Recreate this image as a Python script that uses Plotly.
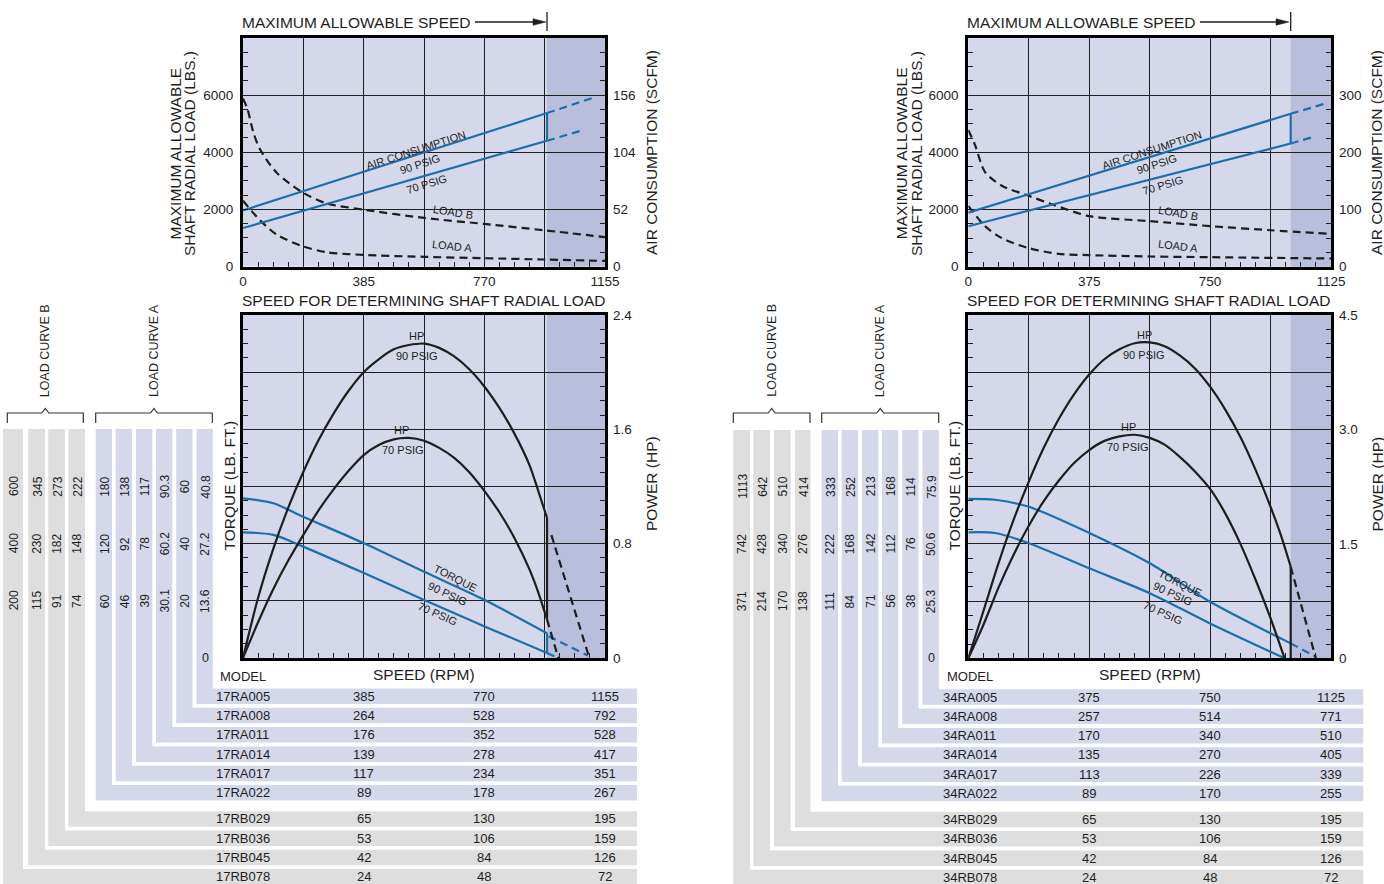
import plotly.graph_objects as go

# ===================== DATA : 17-series motors (left panel) =====================
models17 = ["17RA005", "17RA008", "17RA011", "17RA014", "17RA017", "17RA022",
            "17RB029", "17RB036", "17RB045", "17RB078"]
speeds17 = [[385, 770, 1155], [264, 528, 792], [176, 352, 528], [139, 278, 417],
            [117, 234, 351], [89, 178, 267], [65, 130, 195], [53, 106, 159],
            [42, 84, 126], [24, 48, 72]]
torques17 = [[13.6, 27.2, 40.8], [20, 40, 60], [30.1, 60.2, 90.3], [39, 78, 117],
             [46, 92, 138], [60, 120, 180], [74, 148, 222], [91, 182, 273],
             [115, 230, 345], [200, 400, 600]]
max_speed17 = 970
load_ticks17 = [0, 2000, 4000, 6000]
scfm_ticks17 = [0, 52, 104, 156]
power_ticks17 = [0, 0.8, 1.6, 2.4]

air_x17 = [0, 970]
air90_17 = [51, 139.7]
air70_17 = [35, 114.5]
air90_ext_x17 = [970, 1118]
air90_ext17 = [139.7, 153.7]
air70_ext_x17 = [970, 1080]
air70_ext17 = [114.5, 123.7]

loadB_x17 = [0, 14, 33, 54, 107, 192, 267, 385, 578, 770, 963, 1155]
loadB17 = [5880, 5520, 4700, 4110, 3290, 2580, 2210, 1990, 1700, 1490, 1265, 1030]
loadA_x17 = [0, 54, 107, 192, 267, 385, 578, 770, 963, 1155]
loadA17 = [2300, 1620, 1120, 700, 500, 405, 340, 290, 245, 195]

hp_x17 = [0, 48, 96, 144, 192, 240, 289, 337, 385, 433, 481, 529, 578, 626, 674,
          722, 770, 818, 866, 914, 942, 970]
hp90_17 = [0, 0.42, 0.76, 1.05, 1.30, 1.52, 1.71, 1.87, 2.00, 2.09, 2.16, 2.19, 2.20,
           2.17, 2.11, 2.02, 1.90, 1.75, 1.57, 1.35, 1.17, 0.98]
hp70_17 = [0, 0.25, 0.48, 0.68, 0.86, 1.03, 1.18, 1.31, 1.42, 1.49, 1.53, 1.54, 1.52,
           1.47, 1.40, 1.30, 1.17, 1.02, 0.84, 0.62, 0.46, 0.27]
hp90_ext_x17 = [984, 1105]
hp90_ext17 = [0.86, 0]
hp70_ext_x17 = [970, 1006]
hp70_ext17 = [0.27, 0]

tq_x17 = [0, 97, 192, 386, 578, 771, 970]
tq90_17 = [38.0, 36.8, 33.6, 27.3, 20.5, 13.8, 5.9]
tq70_17 = [29.9, 29.3, 26.5, 20.2, 13.8, 7.5, 1.2]
tq90_ext_x17 = [975, 1100]
tq90_ext17 = [5.2, 0.6]
tq70_ext_x17 = [970, 1006]
tq70_ext17 = [1.2, 0]

# ===================== DATA : 34-series motors (right panel) =====================
models34 = ["34RA005", "34RA008", "34RA011", "34RA014", "34RA017", "34RA022",
            "34RB029", "34RB036", "34RB045", "34RB078"]
speeds34 = [[375, 750, 1125], [257, 514, 771], [170, 340, 510], [135, 270, 405],
            [113, 226, 339], [89, 170, 255], [65, 130, 195], [53, 106, 159],
            [42, 84, 126], [24, 48, 72]]
torques34 = [[25.3, 50.6, 75.9], [38, 76, 114], [56, 112, 168], [71, 142, 213],
             [84, 168, 252], [111, 222, 333], [138, 276, 414], [170, 340, 510],
             [214, 428, 642], [371, 742, 1113]]
max_speed34 = 1000
load_ticks34 = [0, 2000, 4000, 6000]
scfm_ticks34 = [0, 100, 200, 300]
power_ticks34 = [0, 1.5, 3.0, 4.5]

air_x34 = [0, 1000]
air90_34 = [94.5, 267.5]
air70_34 = [70.8, 215.5]
air90_ext_x34 = [1000, 1103]
air90_ext34 = [267.5, 284.6]
air70_ext_x34 = [1000, 1072]
air70_ext34 = [215.5, 227.4]

loadB_x34 = [0, 21, 52, 104, 187.5, 259, 375, 562.5, 750, 937.5, 1125]
loadB34 = [4780, 4250, 3310, 2830, 2480, 2185, 1770, 1595, 1420, 1275, 1150]
loadA_x34 = [0, 52, 104, 187.5, 280, 375, 562.5, 750, 1125]
loadA34 = [2125, 1420, 1000, 650, 450, 405, 357, 333, 286]

hp90_x34 = [0, 47, 94, 141, 188, 234, 281, 328, 375, 422, 469, 516, 563, 609, 656,
            703, 750, 797, 844, 891, 938, 969, 1000]
hp90_34 = [0, 0.62, 1.25, 1.82, 2.32, 2.76, 3.14, 3.46, 3.72, 3.92, 4.05, 4.13, 4.14,
           4.09, 3.97, 3.80, 3.56, 3.26, 2.90, 2.47, 1.98, 1.62, 1.20]
hp90_ext_x34 = [1000, 1078]
hp90_ext34 = [1.20, 0]
hp70_x34 = [0, 47, 94, 141, 188, 234, 281, 328, 375, 422, 469, 516, 563, 609, 656,
            703, 750, 797, 844, 891, 938, 981]
hp70_34 = [0, 0.44, 0.93, 1.36, 1.74, 2.06, 2.33, 2.56, 2.73, 2.85, 2.91, 2.93, 2.89,
           2.80, 2.64, 2.45, 2.22, 1.90, 1.50, 1.03, 0.52, 0]
hp70_ext_x34 = []
hp70_ext34 = []

tq90_x34 = [0, 83, 188, 377, 563, 750, 1000]
tq90_34 = [70.5, 70.1, 67.0, 55.3, 42.0, 25.0, 6.6]
tq70_x34 = [0, 83, 188, 377, 563, 750, 981]
tq70_34 = [55.7, 55.4, 50.9, 39.7, 28.8, 15.4, 0]
tq90_ext_x34 = [1000, 1076]
tq90_ext34 = [6.6, 0.8]
tq70_ext_x34 = []
tq70_ext34 = []

# ===================== STYLE / LAYOUT =====================
W, H = 1384, 884
FONT = "Liberation Sans, Arial, Helvetica, sans-serif"
INK = "#1e1e1e"
BG = "#d4d8ea"
SHADE = "#b8bedb"
GRAY = "#dedede"
BLUE = "#1d6fa9"
DASH = "8px,5px"


def px(x):
    return x / W


def py(y):
    return 1 - y / H


def nm(p, n):
    return p + ("" if n == 1 else str(n))


fig = go.Figure()
layout = {}
shapes = []
annos = []


def txt(t, x, y, size=13, angle=0, xanchor="center", yanchor="middle",
        xref="paper", yref="paper", color=INK):
    annos.append(dict(text=t, x=x, y=y, xref=xref, yref=yref, showarrow=False,
                      textangle=angle, xanchor=xanchor, yanchor=yanchor,
                      font=dict(family=FONT, size=size, color=color)))


def add_line(xs, ys, xr, yr, color, dash=None, width=2.0, spline=True):
    if not xs:
        return
    fig.add_trace(go.Scatter(
        x=xs, y=ys, xaxis=xr, yaxis=yr, mode="lines", hoverinfo="skip",
        showlegend=False, cliponaxis=True,
        line=dict(color=color, width=width, dash=dash,
                  shape="spline" if spline else "linear", smoothing=0.8)))


def axis_common():
    return dict(showline=True, linewidth=3, linecolor="black", mirror=True,
                showgrid=True, gridcolor=INK, gridwidth=1, zeroline=False,
                ticks="inside", ticklen=5, tickwidth=1, tickcolor=INK,
                automargin=False,
                tickfont=dict(family=FONT, size=13.5, color=INK), fixedrange=True)


def minor(vals):
    return dict(tickmode="array", tickvals=vals, ticks="inside", ticklen=5,
                tickwidth=1, tickcolor=INK, showgrid=False)


def build_panel(k, D, G):
    xt, xb = 2 * k + 1, 2 * k + 2
    yt, yt2, yb, yb2 = 4 * k + 1, 4 * k + 2, 4 * k + 3, 4 * k + 4
    speeds = D["speeds"]
    smax = speeds[0][2]
    cols = [smax * i / 6 for i in range(7)]
    xminor = [smax * i / 24 for i in range(1, 24) if i % 4]
    xdom = [px(G["x0"]), px(G["x1"])]
    lab = [str(v) for v in speeds[0]]

    # ---- top chart axes ----
    lt = D["load_ticks"]
    lmax = lt[1] * 4
    layout[nm("xaxis", xt)] = dict(axis_common(), domain=xdom, range=[0, smax],
                                   anchor=nm("y", yt), tickmode="array", tickvals=cols,
                                   ticktext=["0", "", lab[0], "", lab[1], "", lab[2]],
                                   minor=minor(xminor))
    layout[nm("yaxis", yt)] = dict(axis_common(), domain=[py(G["t1"]), py(G["t0"])],
                                   range=[0, lmax], anchor=nm("x", xt), tickmode="array",
                                   tickvals=lt, ticktext=[str(v) for v in lt],
                                   ticklabelstandoff=4,
                                   minor=minor([lt[1] / 4 * i for i in range(1, 16) if i % 4]))
    st = D["scfm_ticks"]
    smx = st[1] * 4
    layout[nm("yaxis", yt2)] = dict(axis_common(), overlaying=nm("y", yt), side="right",
                                    anchor=nm("x", xt), range=[0, smx], showgrid=False,
                                    showline=False, tickmode="array", tickvals=st,
                                    ticktext=[str(v) for v in st], ticklabelstandoff=7,
                                    minor=minor([st[1] / 4 * i for i in range(1, 16) if i % 4]))

    # ---- bottom chart axes ----
    trow = D["torques"][0][0]
    layout[nm("xaxis", xb)] = dict(axis_common(), domain=xdom, range=[0, smax],
                                   anchor=nm("y", yb), tickmode="array", tickvals=cols,
                                   showticklabels=False, minor=minor(xminor))
    layout[nm("yaxis", yb)] = dict(axis_common(), domain=[py(G["b1"]), py(G["b0"])],
                                   range=[0, 6 * trow], anchor=nm("x", xb), tickmode="array",
                                   tickvals=[trow * i for i in range(7)], showticklabels=False,
                                   minor=minor([trow * i / 4 for i in range(1, 24) if i % 4]))
    pt = D["power_ticks"]
    pmax = pt[-1]
    layout[nm("yaxis", yb2)] = dict(axis_common(), overlaying=nm("y", yb), side="right",
                                    anchor=nm("x", xb), range=[0, pmax], showgrid=False,
                                    showline=False, tickmode="array", tickvals=pt,
                                    ticktext=["0" if v == 0 else f"{v:.1f}" for v in pt],
                                    ticklabelstandoff=7,
                                    minor=minor([pmax * i / 24 for i in range(1, 24) if i % 4]))

    # ---- shaded over-speed region ----
    for xr, yr in ((xt, yt), (xb, yb)):
        shapes.append(dict(type="rect", xref=nm("x", xr), yref=nm("y", yr) + " domain",
                           x0=D["max_speed"], x1=smax, y0=0, y1=1, fillcolor=SHADE,
                           line=dict(width=0), layer="below"))

    XT, YT, YT2 = nm("x", xt), nm("y", yt), nm("y", yt2)
    XB, YB, YB2 = nm("x", xb), nm("y", yb), nm("y", yb2)

    # ---- top chart curves ----
    add_line(D["loadB_x"], D["loadB"], XT, YT, INK, DASH, 2.2)
    add_line(D["loadA_x"], D["loadA"], XT, YT, INK, DASH, 2.2)
    add_line(D["air_x"], D["air90"], XT, YT2, BLUE, None, 2.2, False)
    add_line(D["air_x"], D["air70"], XT, YT2, BLUE, None, 2.2, False)
    add_line([D["air_x"][-1]] * 2, [D["air70"][-1], D["air90"][-1]], XT, YT2, BLUE, None, 2.2, False)
    add_line(D["air90_ext_x"], D["air90_ext"], XT, YT2, BLUE, DASH, 2.2, False)
    add_line(D["air70_ext_x"], D["air70_ext"], XT, YT2, BLUE, DASH, 2.2, False)

    # ---- bottom chart curves ----
    add_line(D["tq90_x"], D["tq90"], XB, YB, BLUE, None, 2.2)
    add_line(D["tq70_x"], D["tq70"], XB, YB, BLUE, None, 2.2)
    add_line(D["tq90_ext_x"], D["tq90_ext"], XB, YB, BLUE, DASH, 2.2, False)
    add_line(D["tq70_ext_x"], D["tq70_ext"], XB, YB, BLUE, DASH, 2.2, False)
    if D["tq_join"]:
        add_line([D["tq90_x"][-1]] * 2, [D["tq70"][-1], D["tq90"][-1]], XB, YB, BLUE, None, 2.2, False)
    add_line(D["hp90_x"], D["hp90"], XB, YB2, INK, None, 2.2)
    add_line(D["hp70_x"], D["hp70"], XB, YB2, INK, None, 2.2)
    add_line([D["hp90_x"][-1]] * 2, [D["hp_join_low"], D["hp90"][-1]], XB, YB2, INK, None, 2.2, False)
    add_line(D["hp90_ext_x"], D["hp90_ext"], XB, YB2, INK, DASH, 2.2, False)
    add_line(D["hp70_ext_x"], D["hp70_ext"], XB, YB2, INK, DASH, 2.2, False)

    # ---- curve labels ----
    for t, x, y, a in G["labels"]:
        txt(t, px(x), py(y), 11, a)

    # ---- headings / axis titles ----
    txt("MAXIMUM ALLOWABLE SPEED", px(G["x0"] - 3), py(22), 15.5, 0, "left")
    shapes.append(dict(type="line", xref="paper", yref="paper", x0=px(G["arrow0"]),
                       x1=px(G["arrow1"] - 12), y0=py(22), y1=py(22),
                       line=dict(color=INK, width=1.3)))
    shapes.append(dict(type="path", xref="paper", yref="paper",
                       path=f"M {px(G['arrow1'] - 13)},{py(18.7)} L {px(G['arrow1'])},{py(22)} "
                            f"L {px(G['arrow1'] - 13)},{py(25.3)} Z",
                       fillcolor=INK, line=dict(color=INK, width=0.5)))
    shapes.append(dict(type="line", xref=XT, yref="paper", x0=D["max_speed"], x1=D["max_speed"],
                       y0=py(12), y1=py(31), line=dict(color=INK, width=1.3)))
    txt("SPEED FOR DETERMINING SHAFT RADIAL LOAD", px(G["x0"] - 3), py(300), 15.5, 0, "left")
    txt("MAXIMUM ALLOWABLE", px(G["lt1"]), py(153.5), 15.5, -90)
    txt("SHAFT RADIAL LOAD (LBS.)", px(G["lt2"]), py(153.5), 15.5, -90)
    txt("AIR CONSUMPTION (SCFM)", px(G["rt"]), py(153), 15.5, -90)
    txt("TORQUE (LB. FT.)", px(G["tt"]), py(485.5), 15.5, -90)
    txt("POWER (HP)", px(G["rt"] + G["pt_dx"]), py(484), 15.5, -90)
    txt("MODEL", px(G["mx"] + 4), py(676), 13, 0, "left")
    txt("SPEED (RPM)", px(G["spx"]), py(674), 15.5)

    # ---- table: L-shaped bands per model ----
    cl_all = G["col_left"]
    cw_all = G["col_w"]
    for i, m in enumerate(D["models"]):
        grpA = i < 6
        cl, cw = cl_all[i], cw_all[i]
        rt = (G["rowA0"] + G["pitch"] * i) if grpA else (G["rowB0"] + G["pitch"] * (i - 6))
        rb = rt + G["row_h"]
        ct = G["col_top"]
        path = (f"M {px(cl)},{py(ct)} L {px(cl + cw)},{py(ct)} L {px(cl + cw)},{py(rt)} "
                f"L {px(G['band_r'])},{py(rt)} L {px(G['band_r'])},{py(rb)} L {px(cl)},{py(rb)} Z")
        shapes.append(dict(type="path", xref="paper", yref="paper", path=path,
                           fillcolor=BG if grpA else GRAY, line=dict(width=0), layer="below"))
        yc = py(rt + G["row_h"] / 2)
        txt(m, px(G["mx"]), yc, 13, 0, "left")
        for j, v in enumerate(speeds[i]):
            txt(str(v), cols[2 * j + 2], yc, 13, 0, "center", "middle", XB, "paper")
        for j, v in enumerate(D["torques"][i]):
            txt(f"{v:g}", px(cl + cw / 2 + 0.5), trow * (j + 1), 12, -90, "center", "middle",
                "paper", YB)
    txt("0", px(cl_all[0] + cw_all[0] / 2 + 0.5), 0, 12.5, 0, "center", "middle", "paper", YB)

    # ---- brackets + group titles ----
    for (xl, xr), name in ((G["brB"], "LOAD CURVE B"), (G["brA"], "LOAD CURVE A")):
        xc = (xl + xr) / 2
        path = (f"M {px(xl)},{py(423)} L {px(xl)},{py(413)} L {px(xc - 3.5)},{py(413)} "
                f"L {px(xc)},{py(408.5)} L {px(xc + 3.5)},{py(413)} L {px(xr)},{py(413)} "
                f"L {px(xr)},{py(423)}")
        shapes.append(dict(type="path", xref="paper", yref="paper", path=path,
                           line=dict(color="#333333", width=1.2)))
        txt(name, px(xc + 0.5), py(399), 12.5, -90, "center", "bottom")


D17 = dict(models=models17, speeds=speeds17, torques=torques17, max_speed=max_speed17,
           load_ticks=load_ticks17, scfm_ticks=scfm_ticks17, power_ticks=power_ticks17,
           air_x=air_x17, air90=air90_17, air70=air70_17,
           air90_ext_x=air90_ext_x17, air90_ext=air90_ext17,
           air70_ext_x=air70_ext_x17, air70_ext=air70_ext17,
           loadB_x=loadB_x17, loadB=loadB17, loadA_x=loadA_x17, loadA=loadA17,
           hp90_x=hp_x17, hp90=hp90_17, hp90_ext_x=hp90_ext_x17, hp90_ext=hp90_ext17,
           hp70_x=hp_x17, hp70=hp70_17, hp70_ext_x=hp70_ext_x17, hp70_ext=hp70_ext17,
           hp_join_low=hp70_17[-1],
           tq90_x=tq_x17, tq90=tq90_17, tq70_x=tq_x17, tq70=tq70_17,
           tq90_ext_x=tq90_ext_x17, tq90_ext=tq90_ext17,
           tq70_ext_x=tq70_ext_x17, tq70_ext=tq70_ext17, tq_join=True)

D34 = dict(models=models34, speeds=speeds34, torques=torques34, max_speed=max_speed34,
           load_ticks=load_ticks34, scfm_ticks=scfm_ticks34, power_ticks=power_ticks34,
           air_x=air_x34, air90=air90_34, air70=air70_34,
           air90_ext_x=air90_ext_x34, air90_ext=air90_ext34,
           air70_ext_x=air70_ext_x34, air70_ext=air70_ext34,
           loadB_x=loadB_x34, loadB=loadB34, loadA_x=loadA_x34, loadA=loadA34,
           hp90_x=hp90_x34, hp90=hp90_34, hp90_ext_x=hp90_ext_x34, hp90_ext=hp90_ext34,
           hp70_x=hp70_x34, hp70=hp70_34, hp70_ext_x=hp70_ext_x34, hp70_ext=hp70_ext34,
           hp_join_low=0,
           tq90_x=tq90_x34, tq90=tq90_34, tq70_x=tq70_x34, tq70=tq70_34,
           tq90_ext_x=tq90_ext_x34, tq90_ext=tq90_ext34,
           tq70_ext_x=tq70_ext_x34, tq70_ext=tq70_ext34, tq_join=False)

G17 = dict(x0=243, x1=605, t0=38, t1=266.5, b0=315, b1=658,
           arrow0=475, arrow1=546,
           lt1=175, lt2=189.5, rt=651, pt_dx=0, tt=229, mx=214, spx=424,
           col_left=[196.5, 176.2, 156, 136, 115.7, 95.7, 68.3, 48.3, 28.3, 3.0],
           col_w=[16.3] * 6 + [16.7, 16.7, 16.7, 20],
           col_top=429, rowA0=688.5, rowB0=811.2, pitch=19.3, row_h=15.5, band_r=637,
           brB=(7.3, 83.3), brA=(95.7, 212.3),
           labels=[("AIR CONSUMPTION", 416, 150, -18), ("90 PSIG", 420, 163.5, -18),
                   ("70 PSIG", 426.7, 184.3, -17), ("LOAD B", 453.3, 211.7, 9),
                   ("LOAD A", 451.7, 245.7, 6),
                   ("HP", 416.7, 335.5, 0), ("90 PSIG", 416.7, 356, 0),
                   ("HP", 401.7, 430, 0), ("70 PSIG", 402.7, 450, 0),
                   ("TORQUE", 455, 578.3, 27), ("90 PSIG", 448.3, 593.5, 25),
                   ("70 PSIG", 438.3, 613.5, 24)])

G34 = dict(x0=968.3, x1=1331, t0=38, t1=266.7, b0=315, b1=658.3,
           arrow0=1200, arrow1=1289,
           lt1=901.7, lt2=916.5, rt=1376, pt_dx=0.5, tt=954, mx=940.5, spx=1150,
           col_left=[922.5, 902.2, 882, 862, 841.7, 821.7, 795, 774, 753.3, 733.3],
           col_w=[16.3] * 6 + [15.5, 16.7, 16.7, 16.7],
           col_top=430, rowA0=689.3, rowB0=811.8, pitch=19.3, row_h=15.5, band_r=1363.3,
           brB=(733.3, 810), brA=(821.7, 938.7),
           labels=[("AIR CONSUMPTION", 1151.7, 150, -18), ("90 PSIG", 1156.7, 164.3, -18),
                   ("70 PSIG", 1163.3, 185, -17), ("LOAD B", 1178.3, 213.3, 10),
                   ("LOAD A", 1177.7, 246, 7),
                   ("HP", 1144.3, 334.5, 0), ("90 PSIG", 1144.3, 355, 0),
                   ("HP", 1128.3, 427, 0), ("70 PSIG", 1128.3, 447, 0),
                   ("TORQUE", 1180, 582.7, 27), ("90 PSIG", 1173.3, 594, 25),
                   ("70 PSIG", 1163.3, 613.3, 24)])

build_panel(0, D17, G17)
build_panel(1, D34, G34)

fig.update_layout(width=W, height=H, autosize=False,
                  margin=dict(l=0, r=0, t=0, b=0, pad=0, autoexpand=False),
                  paper_bgcolor="white", plot_bgcolor=BG, showlegend=False,
                  hovermode=False, shapes=shapes, annotations=annos,
                  font=dict(family=FONT, color=INK), **layout)

fig.write_html("out.html", config={"displayModeBar": False, "staticPlot": True},
               post_script="document.body.style.margin='0';"
                           "document.body.style.overflow='hidden';")
